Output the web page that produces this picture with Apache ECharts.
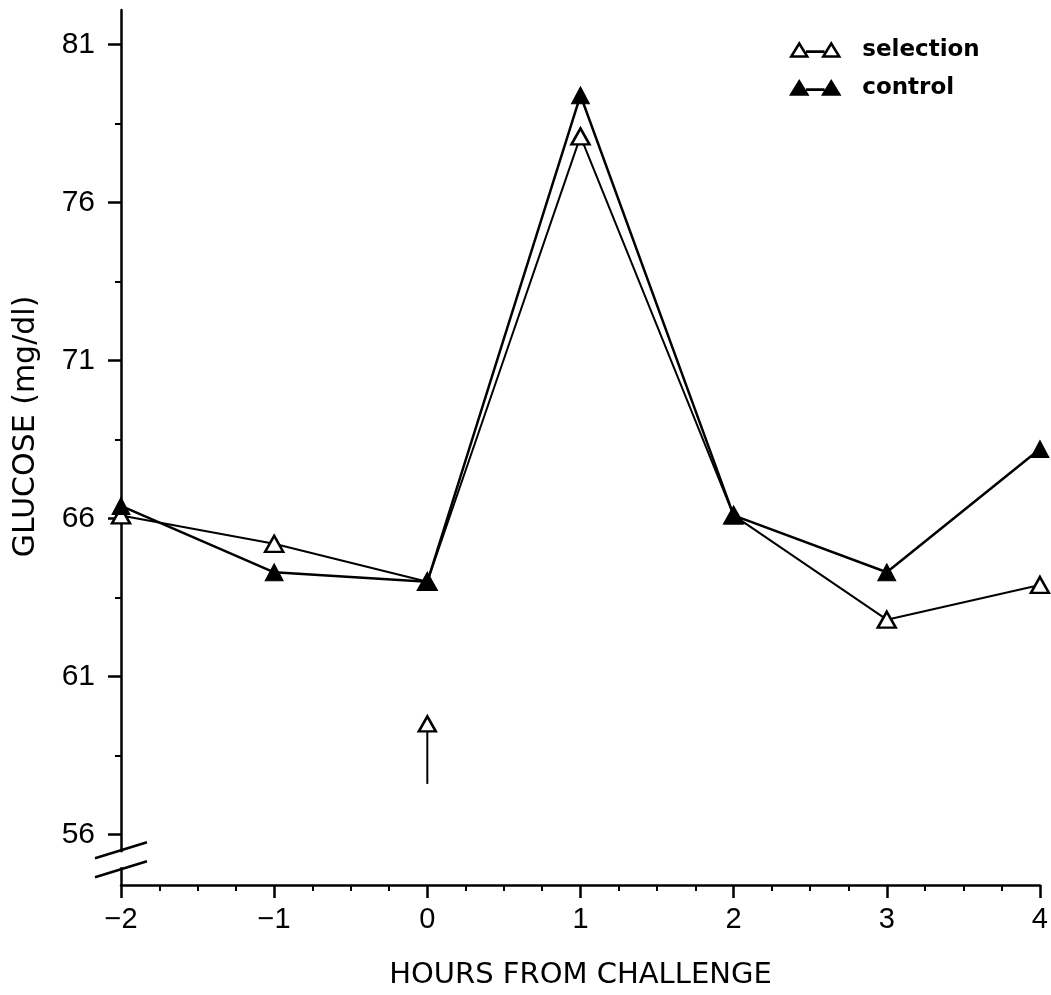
<!DOCTYPE html>
<html>
<head>
<meta charset="utf-8">
<script src="https://cdn.jsdelivr.net/npm/echarts@6/dist/echarts.min.js"></script>
<style>
  html, body { margin: 0; padding: 0; background: #fff; }
  #chart { width: 1051px; height: 995px; }
</style>
</head>
<body>
<div id="chart"></div>
<script>
// Glucose response around the challenge (hour 0)
const hours = [-2, -1, 0, 1, 2, 3, 4];
const selection = [66.1, 65.2, 64.0, 78.1, 66.1, 62.8, 63.9];
const control = [66.4, 64.3, 64.0, 79.4, 66.1, 64.3, 68.2];

// Axis ticks
const xTicks = [-2, -1, 0, 1, 2, 3, 4];
const yMajorTicks = [56, 61, 66, 71, 76, 81];
const yMinorTicks = [58.5, 63.5, 68.5, 73.5, 78.5];

// Arrow marking the challenge time
const arrowHour = 0;
const arrowTail = 57.6;
const arrowHead = 59.5;

const Y_MIN = 54.4, Y_MAX = 82.1;
const INK = '#000';
const numFont = "'Liberation Sans', Arial, sans-serif";
const titleFont = "'DejaVu Sans', sans-serif";

const pairs = (ys) => hours.map((h, i) => [h, ys[i]]);

// legend glyph: triangle - line - triangle
const legendGlyph = 'path://M0,13 L8,0 L16,13 Z M16,8 L32,8 L32,8.3 L16,8.3 Z M32,13 L40,0 L48,13 Z';

const chart = echarts.init(document.getElementById('chart'), null, { renderer: 'canvas' });

const option = {
  backgroundColor: '#fff',
  animation: false,
  grid: { left: 121, right: 11, top: 10, bottom: 105 },
  legend: {
    orient: 'vertical',
    left: 790,
    top: 37,
    padding: 0,
    itemWidth: 48,
    itemHeight: 13,
    itemGap: 12,
    selectedMode: false,
    textStyle: {
      fontFamily: titleFont, fontWeight: 'bold', fontSize: 23, color: INK,
      lineHeight: 26, padding: [0, 0, 0, 18]
    },
    data: [
      { name: 'selection', icon: legendGlyph,
        itemStyle: { color: '#fff', borderColor: INK, borderWidth: 2.5, opacity: 1 } },
      { name: 'control', icon: legendGlyph,
        itemStyle: { color: INK, borderColor: INK, borderWidth: 2.5, opacity: 1 } }
    ]
  },
  xAxis: {
    type: 'value',
    min: -2, max: 4, interval: 1,
    name: 'HOURS FROM CHALLENGE',
    nameLocation: 'middle',
    nameGap: 76,
    nameTextStyle: { fontFamily: titleFont, fontSize: 29, color: INK },
    axisLine: { onZero: false, lineStyle: { color: INK, width: 2.5 } },
    axisTick: { show: true, length: 13, lineStyle: { color: INK, width: 2.5 } },
    minorTick: { show: true, splitNumber: 4, length: 6, lineStyle: { color: INK, width: 2 } },
    axisLabel: {
      margin: 20, fontFamily: numFont, fontSize: 29, color: INK,
      customValues: xTicks,
      formatter: (v) => (v < 0 ? '\u2212' + Math.abs(v) : String(v))
    },
    splitLine: { show: false }
  },
  yAxis: [
    {
      type: 'value',
      min: Y_MIN, max: Y_MAX,
      name: 'GLUCOSE (mg/dl)',
      nameLocation: 'middle',
      nameGap: 80,
      nameTextStyle: { fontFamily: titleFont, fontSize: 30, color: INK, padding: [0, 0, 0, 42] },
      axisLine: { show: true, onZero: false, lineStyle: { color: INK, width: 2.5 } },
      axisTick: { show: true, length: 13, customValues: yMajorTicks, lineStyle: { color: INK, width: 2.5 } },
      axisLabel: { margin: 26, fontFamily: numFont, fontSize: 30, color: INK, customValues: yMajorTicks },
      splitLine: { show: false }
    },
    {
      type: 'value',
      min: Y_MIN, max: Y_MAX,
      position: 'left',
      axisLine: { show: false, onZero: false },
      axisTick: { show: true, length: 6, customValues: yMinorTicks, lineStyle: { color: INK, width: 2 } },
      axisLabel: { show: false },
      splitLine: { show: false }
    }
  ],
  series: [
    {
      name: 'selection',
      type: 'line',
      data: pairs(selection),
      symbol: 'triangle',
      symbolSize: [18, 16],
      lineStyle: { color: INK, width: 2 },
      itemStyle: { color: '#fff', borderColor: INK, borderWidth: 2.5, opacity: 1 },
      z: 3
    },
    {
      name: 'control',
      type: 'line',
      data: pairs(control),
      symbol: 'triangle',
      symbolSize: [18, 17],
      lineStyle: { color: INK, width: 2.5 },
      itemStyle: { color: INK, borderColor: INK, borderWidth: 1, opacity: 1 },
      z: 4
    },
    {
      name: 'arrow shaft',
      type: 'line',
      data: [[arrowHour, arrowTail], [arrowHour, arrowHead - 0.25]],
      symbol: 'none',
      lineStyle: { color: INK, width: 2 },
      z: 3
    },
    {
      name: 'arrow head',
      type: 'scatter',
      data: [[arrowHour, arrowHead]],
      symbol: 'triangle',
      symbolSize: [17, 15],
      itemStyle: { color: '#fff', borderColor: INK, borderWidth: 2.5, opacity: 1 },
      z: 4
    }
  ]
};

chart.setOption(option);

// Broken-axis marks between the 56 tick and the origin
function drawAxisBreak() {
  const ax = chart.convertToPixel({ xAxisIndex: 0 }, -2);
  const yTop = chart.convertToPixel({ yAxisIndex: 0 }, 55.5);
  const yBot = chart.convertToPixel({ yAxisIndex: 0 }, 54.9);
  const half = 26, rise = 8;
  chart.setOption({
    graphic: [
      { type: 'rect', z: 100, shape: { x: ax - 4, y: yTop + 2, width: 8, height: yBot - yTop - 4 },
        style: { fill: '#fff' } },
      { type: 'line', z: 101, shape: { x1: ax - half, y1: yTop + rise, x2: ax + half, y2: yTop - rise },
        style: { stroke: INK, lineWidth: 2.5 } },
      { type: 'line', z: 101, shape: { x1: ax - half, y1: yBot + rise, x2: ax + half, y2: yBot - rise },
        style: { stroke: INK, lineWidth: 2.5 } }
    ]
  });
}
drawAxisBreak();
</script>
</body>
</html>
